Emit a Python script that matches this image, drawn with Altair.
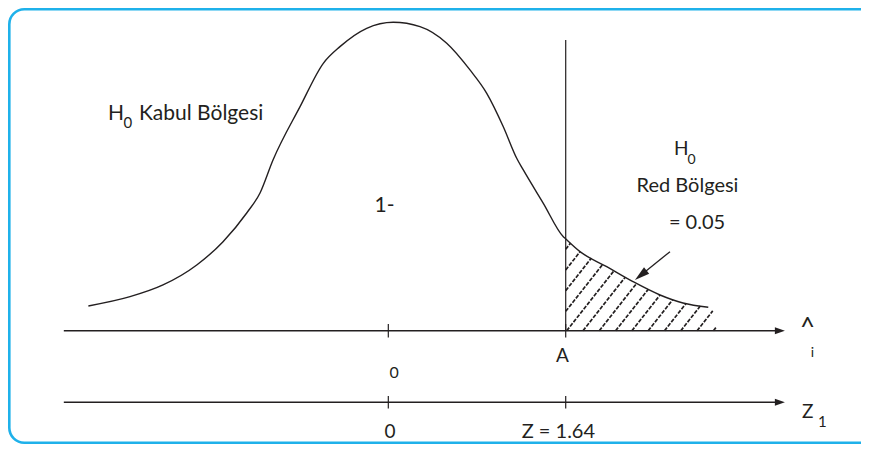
import altair as alt
import pandas as pd
import numpy as np

# ---------------- data ----------------
# bell curve (z value, height)
curve_z = [-2.773, -2.388, -2.083, -1.771, -1.528, -1.309, -1.186, -1.066, -0.816,
           -0.601, -0.447, -0.200, 0.046, 0.293, 0.540, 0.755, 0.910, 1.063, 1.187,
           1.248, 1.433, 1.618, 1.634, 1.772, 2.019, 2.262, 2.512, 2.724, 2.958]
curve_d = [0.0322, 0.0442, 0.0594, 0.0853, 0.1155, 0.1527, 0.1787, 0.2215, 0.2906,
           0.3468, 0.3684, 0.3922, 0.4000, 0.3943, 0.3728, 0.3382, 0.3079, 0.2646, 0.2237,
           0.2085, 0.1653, 0.1220, 0.1199, 0.1026, 0.0831, 0.0637, 0.0464, 0.0360, 0.0305]

z_crit = 1.64          # A  /  Z = 1.64
tick_z = [0.0, 1.64]
axis_start = -3.0
axis_end = 3.62
lower_axis_d = -0.0927
crit_line_top = 0.377

# labels
label_text = ["H", "0", "Kabul Bölgesi", "H", "0", "Red Bölgesi", "= 0.05", "1-",
              "0", "A", "0", "Z = 1.64", "^", "i", "Z", "1"]
label_z = [-2.591, -2.448, -2.305, 2.641, 2.766, 2.766, 2.854, -0.035,
           0.053, 1.610, 0.016, 1.572, 3.875, 3.922, 3.825, 3.972]
label_d = [0.2733, 0.2630, 0.2733, 0.2279, 0.2156, 0.1800, 0.1320, 0.1544,
           -0.0616, -0.0405, -0.1396, -0.1396, -0.0067, -0.0340, -0.1131, -0.1245]
label_size = [21, 15, 21, 19, 14, 20, 20, 21, 16, 19, 19, 20, 26, 14, 19, 15]
label_align = ["left", "left", "left", "left", "left", "center", "center", "center",
               "center", "center", "center", "center", "center", "center", "left", "left"]

# pointer arrow to the tail
ptr_z = [2.604, 2.334]
ptr_d = [0.1026, 0.0720]

# ---------------- styling / layout ----------------
W, H = 853, 436
INK = "#231f20"
BLUE = "#1fb1ea"
FONT = "Lato"
xs = alt.Scale(domain=[-3.516, 4.370], nice=False, zero=False)
ys = alt.Scale(domain=[-0.1468, 0.4185], nice=False, zero=False)


def XE(f="z"):
    return alt.X(f"{f}:Q", scale=xs, axis=None)


def YE(f="d"):
    return alt.Y(f"{f}:Q", scale=ys, axis=None)


layers = []

# frame
frame = alt.Chart(pd.DataFrame({"k": [0]})).mark_rect(
    fill="white", fillOpacity=0, stroke=BLUE, strokeWidth=2.6, cornerRadius=15
).encode(x=alt.value(1.3), x2=alt.value(W + 40), y=alt.value(1.3), y2=alt.value(H - 1.3))
layers.append(frame)

# hatch lines in the rejection region (pattern, clipped to curve)
slope = 0.178
spacing = 0.1507
tail_mask = [z > z_crit for z in curve_z]
bz = [z_crit] + [z for z, m in zip(curve_z, tail_mask) if m] + [3.03]
bd = [float(np.interp(z_crit, curve_z, curve_d))] + \
     [d for d, m in zip(curve_d, tail_mask) if m] + [0.022]
grid = np.linspace(z_crit, 3.03, 2000)
fgrid = np.interp(grid, bz, bd)
segs = []
for k in range(-6, 10):
    c = 1.649 + spacing * k
    z0 = max(c, z_crit)
    d0 = slope * (z0 - c)
    if d0 >= np.interp(z0, bz, bd):
        continue
    sel = grid[(grid >= z0) & (slope * (grid - c) >= fgrid)]
    z1 = float(sel[0]) if len(sel) else 3.03
    if z1 <= z0:
        continue
    segs.append({"z": z0, "d": d0, "z2": z1, "d2": slope * (z1 - c)})
hatch = alt.Chart(pd.DataFrame(segs)).mark_rule(
    color=INK, strokeWidth=1.7, strokeDash=[4, 1.5]
).encode(x=XE(), y=YE(), x2="z2:Q", y2="d2:Q")
layers.append(hatch)

# curve
curve = alt.Chart(pd.DataFrame({"z": curve_z, "d": curve_d})).mark_line(
    color=INK, strokeWidth=1.4, interpolate="monotone"
).encode(x=XE(), y=YE())
layers.append(curve)

# axes, ticks, critical line
rules = pd.DataFrame({
    "z": [axis_start, axis_start, z_crit] + tick_z + tick_z,
    "z2": [axis_end, axis_end, z_crit] + tick_z + tick_z,
    "d": [0.0, lower_axis_d, 0.0] + [-0.0087] * 2 + [lower_axis_d - 0.008] * 2,
    "d2": [0.0, lower_axis_d, crit_line_top] + [0.0087] * 2 + [lower_axis_d + 0.008] * 2,
    "w": [1.5, 1.5, 1.2, 1.2, 1.2, 1.2, 1.2],
})
rule_layer = alt.Chart(rules).mark_rule(color=INK).encode(
    x=XE(), y=YE(), x2="z2:Q", y2="d2:Q",
    strokeWidth=alt.StrokeWidth("w:Q", scale=None))
layers.append(rule_layer)

# axis arrowheads
heads = alt.Chart(pd.DataFrame({"z": [axis_end, axis_end], "d": [0.0, lower_axis_d]})).mark_point(
    shape="M0,-1L0.7,1L-0.7,1Z", filled=True, size=100, angle=90, color=INK,
    opacity=1, strokeWidth=0
).encode(x=XE(), y=YE())
layers.append(heads)

# pointer arrow
ptr = alt.Chart(pd.DataFrame({"z": [ptr_z[0]], "d": [ptr_d[0]], "z2": [ptr_z[1]], "d2": [ptr_d[1]]})).mark_rule(
    color=INK, strokeWidth=1.3).encode(x=XE(), y=YE(), x2="z2:Q", y2="d2:Q")
ptr_head = alt.Chart(pd.DataFrame({"z": [ptr_z[1]], "d": [ptr_d[1]]})).mark_point(
    shape="M0,-1L0.55,1L-0.55,1Z", filled=True, size=225, angle=231, color=INK,
    opacity=1, strokeWidth=0
).encode(x=XE(), y=YE())
layers += [ptr, ptr_head]

# labels
for t, z, d, s, a in zip(label_text, label_z, label_d, label_size, label_align):
    layers.append(
        alt.Chart(pd.DataFrame({"t": [t], "z": [z], "d": [d]})).mark_text(
            align=a, baseline="alphabetic", fontSize=s, font=FONT, color=INK
        ).encode(x=XE(), y=YE(), text="t:N")
    )

chart = alt.layer(*layers).properties(
    width=W, height=H, autosize=alt.AutoSizeParams(type="none"), padding=0,
    background="white"
).configure_view(stroke=None)

chart.save("out.html", embed_options={"renderer": "svg", "actions": False})
